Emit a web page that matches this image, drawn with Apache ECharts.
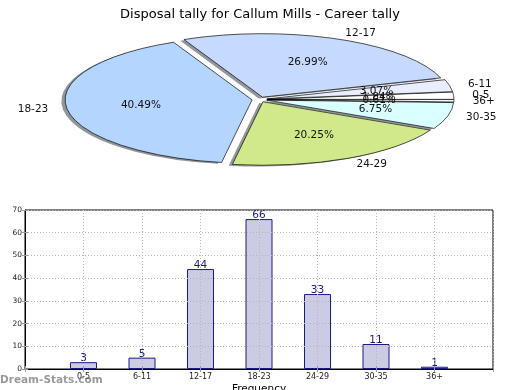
<!DOCTYPE html>
<html>
<head>
<meta charset="utf-8">
<script src="https://cdn.jsdelivr.net/npm/echarts@6/dist/echarts.min.js"></script>
<style>
  html, body { margin: 0; padding: 0; background: #fff; }
  #chart { width: 520px; height: 390px; }
</style>
</head>
<body>
<div id="chart"></div>
<script>
const titleText = 'Disposal tally for Callum Mills - Career tally';
const categories = ['0-5', '6-11', '12-17', '18-23', '24-29', '30-35', '36+'];
const tally = [3, 5, 44, 66, 33, 11, 1];
const yTicks = [0, 10, 20, 30, 40, 50, 60, 70];

const pieColors = ['#ffffff', '#e8eeff', '#c6d9fe', '#b4d5fe', '#d0ea8b', '#d9ffff', '#ffffff'];
const FONT = 'DejaVu Sans';

// pie layout (ellipse, matplotlib-like)
const CX = 259.5, CY = 99.5, RX = 187, RY = 63.5, EXPLODE = 0.04;

const total = tally.reduce((a, b) => a + b, 0);
let acc = 0;
const angles = tally.map(v => {
  const a0 = acc / total * Math.PI * 2;
  acc += v;
  return [a0, acc / total * Math.PI * 2];
});

function sliceGeom(i) {
  const a0 = angles[i][0], a1 = angles[i][1];
  const mid = (a0 + a1) / 2;
  const ox = CX + EXPLODE * RX * Math.cos(mid);
  const oy = CY - EXPLODE * RY * Math.sin(mid);
  return { a0, a1, mid, ox, oy };
}

function renderShadow(params, api) {
  const g = sliceGeom(params.dataIndex);
  return {
    type: 'sector',
    x: g.ox - 0.02 * RX,
    y: g.oy + 0.02 * RY,
    scaleX: 1,
    scaleY: RY / RX,
    shape: { cx: 0, cy: 0, r: RX, r0: 0, startAngle: -g.a0, endAngle: -g.a1, clockwise: false },
    style: { fill: 'rgba(40,45,55,0.5)', stroke: null },
    silent: true
  };
}

function renderSlice(params, api) {
  const i = params.dataIndex;
  const g = sliceGeom(i);
  const c = Math.cos(g.mid), s = Math.sin(g.mid);
  const lx = g.ox + 1.1 * RX * c;
  const ly = g.oy - 1.1 * RY * s;
  const px = g.ox + 0.6 * RX * c;
  const py = g.oy - 0.6 * RY * s;
  const pct = (api.value(0) / total * 100).toFixed(2) + '%';
  return {
    type: 'group',
    children: [
      {
        type: 'sector',
        x: g.ox, y: g.oy,
        scaleX: 1, scaleY: RY / RX,
        shape: { cx: 0, cy: 0, r: RX, r0: 0, startAngle: -g.a0, endAngle: -g.a1, clockwise: false },
        style: { fill: pieColors[i], stroke: '#000', lineWidth: 1, strokeNoScale: true }
      },
      {
        type: 'text', x: px, y: py, z2: 10,
        style: { text: pct, fill: '#111', fontSize: 10.5, fontFamily: FONT, align: 'center', verticalAlign: 'middle' }
      },
      {
        type: 'text', x: lx, y: ly, z2: 10,
        style: { text: categories[i], fill: '#111', fontSize: 10.5, fontFamily: FONT,
                 align: c >= 0 ? 'left' : 'right', verticalAlign: 'middle' }
      }
    ]
  };
}

const chart = echarts.init(document.getElementById('chart'), null, { renderer: 'canvas' });

const option = {
  animation: false,
  backgroundColor: '#fff',
  title: {
    text: titleText, left: 'center', top: 3,
    textStyle: { fontFamily: FONT, fontSize: 13, fontWeight: 'normal', color: '#000' }
  },
  graphic: [{
    type: 'text', left: 0, top: 375, z: 100,
    style: { text: 'Dream-Stats.com', fontFamily: FONT, fontSize: 10.5, fontWeight: 'bold', fill: 'rgba(120,120,120,0.75)' }
  }],
  grid: {
    left: 25, right: 27, top: 210, bottom: 21,
    outerBoundsMode: 'none', containLabel: false,
    show: true, borderColor: '#000', borderWidth: 1, backgroundColor: 'transparent'
  },
  xAxis: [{
    type: 'value', min: 0, max: 8, interval: 1, z: 3,
    name: 'Frequency', nameLocation: 'middle', nameGap: 15,
    nameTextStyle: { fontFamily: FONT, fontSize: 10.5, color: '#000' },
    axisLine: { show: true, lineStyle: { color: '#000', width: 1 } },
    axisTick: { show: true, inside: true, length: 3, lineStyle: { color: '#999' } },
    axisLabel: {
      fontFamily: FONT, fontSize: 8, color: '#222', margin: 4,
      formatter: v => categories[v - 1] || ''
    },
    splitLine: { show: true, lineStyle: { color: '#b5b5b5', type: [1, 2], width: 1 } }
  }, {
    type: 'value', min: 0, max: 8, interval: 1, position: 'top', z: 3,
    axisLine: { show: false },
    axisTick: { show: true, inside: true, length: 3, lineStyle: { color: '#999' } },
    axisLabel: { show: false },
    splitLine: { show: false }
  }],
  yAxis: [{
    type: 'value', min: yTicks[0], max: yTicks[yTicks.length - 1], interval: 10, z: 3,
    name: 'Stat Intervals', nameLocation: 'middle', nameGap: 14, nameRotate: 90,
    nameTextStyle: { fontFamily: FONT, fontSize: 10.5, color: '#000' },
    axisLine: { show: true, lineStyle: { color: '#000', width: 1 } },
    axisTick: { show: true, inside: true, length: 3, lineStyle: { color: '#999' } },
    axisLabel: { fontFamily: FONT, fontSize: 7.5, color: '#222', margin: 3 },
    splitLine: { show: true, lineStyle: { color: '#b5b5b5', type: [1, 2], width: 1 } }
  }, {
    type: 'value', min: yTicks[0], max: yTicks[yTicks.length - 1], interval: 10, position: 'right', z: 3,
    axisLine: { show: false },
    axisTick: { show: true, inside: true, length: 3, lineStyle: { color: '#999' } },
    axisLabel: { show: false },
    splitLine: { show: false }
  }],
  series: [
    {
      type: 'custom', coordinateSystem: 'none', z: 1,
      renderItem: renderShadow, data: tally, silent: true
    },
    {
      type: 'custom', coordinateSystem: 'none', z: 2,
      renderItem: renderSlice, data: tally
    },
    {
      type: 'bar', xAxisIndex: 0, yAxisIndex: 0, z: 1,
      data: tally.map((v, i) => [i + 1, v]),
      barWidth: 27,
      itemStyle: { color: '#cbcbe3', borderColor: '#1a1a88', borderWidth: 1 },
      label: {
        show: true, position: 'top', distance: -2,
        fontFamily: FONT, fontSize: 10.5, color: '#1a1a88',
        formatter: p => p.value[1]
      }
    }
  ]
};

chart.setOption(option);
</script>
</body>
</html>
